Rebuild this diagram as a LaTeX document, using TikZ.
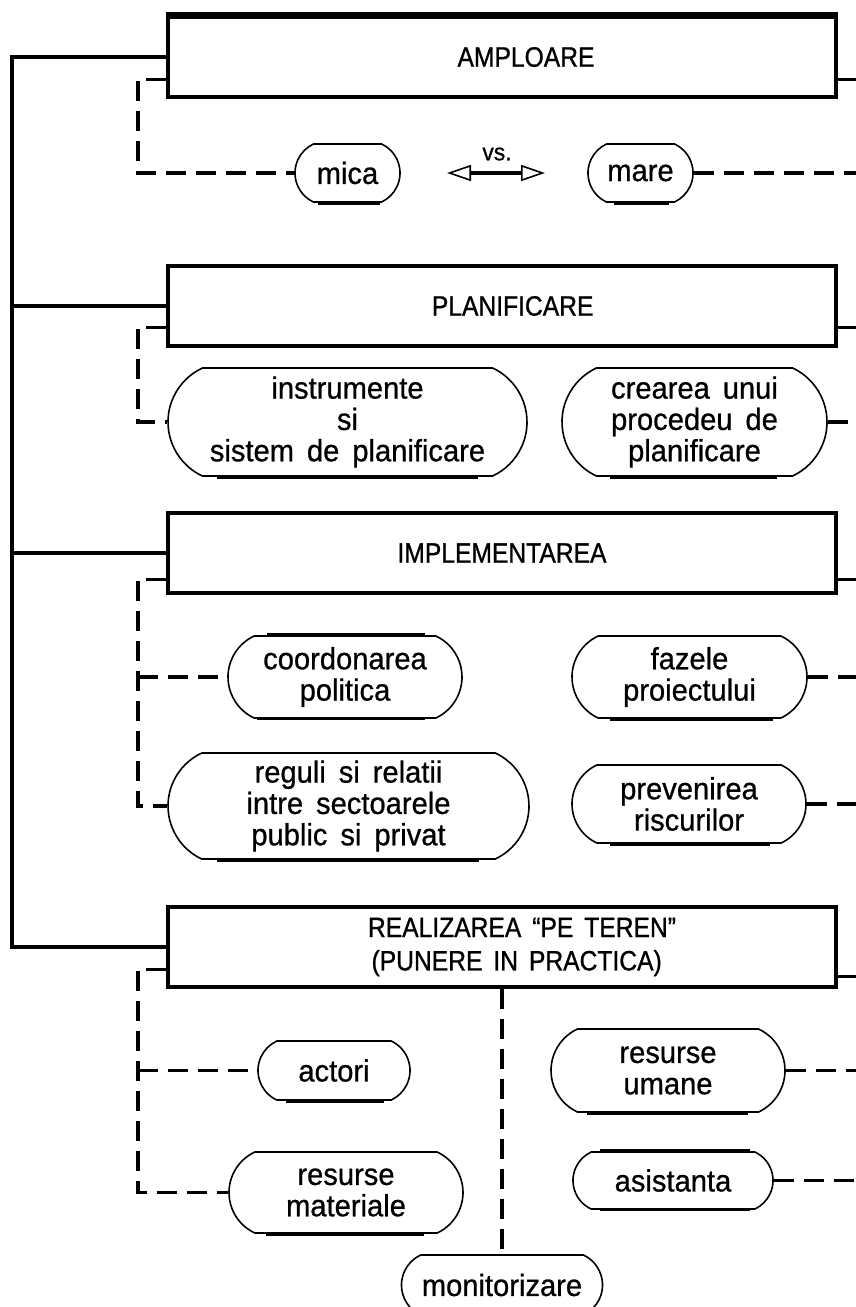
\documentclass[tikz,border=0pt]{standalone}
\usepackage{fontspec}
\setmainfont{Liberation Sans}[WordSpace=1.6, FakeBold=0.6]
\newfontfamily\boxfont{Liberation Sans}[WordSpace=1.6, FakeBold=0.9, FakeStretch=0.88]
\newfontfamily\pillfont{Liberation Sans}[WordSpace=1.6, FakeBold=0.7, FakeStretch=0.95]
\usetikzlibrary{shapes.misc,calc,arrows.meta}
\def\pxu{0.75pt}
\tikzset{
  box/.style={draw, line width=2.6pt, minimum width=668*\pxu, minimum height=80*\pxu,
    inner sep=0pt, font=\boxfont\fontsize{21}{25}\selectfont, align=center},
  pill/.style={draw, line width=1.2pt, rounded rectangle, rounded rectangle arc length=130,
    inner sep=0pt, font=\pillfont\fontsize{23}{23.5}\selectfont, align=center},
  solidline/.style={line width=2.4pt},
  dl/.style={line width=2.6pt, dash pattern=on 15pt off 7.5pt},
  heavy/.style={line width=3.4pt},
}
\begin{document}
\begin{tikzpicture}[x=0.75pt,y=-0.75pt]
\fill[white] (0,0) rectangle (856,1307);
\useasboundingbox (0,0) rectangle (856,1307);
\coordinate (tx) at (12,0);
\coordinate (lx) at (138,0);
\coordinate (rx) at (858,0);

% main boxes
\node[box] (ampl) at (502,57) {\hspace*{36pt}AMPLOARE};
\node[box] (plan) at (502,306) {\hspace*{16pt}PLANIFICARE};
\node[box] (impl) at (502,553) {IMPLEMENTAREA};
\node[box] (real) at (502,947) {\hspace*{30pt}REALIZAREA “PE TEREN”\\\hspace*{22pt}(PUNERE IN PRACTICA)};
\draw[line width=4.4pt] (ampl.north west) -- (ampl.north east);

% trunk
\draw[solidline] (ampl.west) -- (ampl.west -| tx) -- (real.west -| tx) -- (real.west);
\draw[solidline] (plan.west) -- (plan.west -| tx);
\draw[solidline] (impl.west) -- (impl.west -| tx);

% AMPLOARE
\node[pill, minimum width=105*\pxu, minimum height=58*\pxu] (mica) at (347.5,173) {mica};
\node[pill, minimum width=105*\pxu, minimum height=58*\pxu] (mare) at (640.5,173) {mare};
\coordinate (vsl) at (447,173);
\coordinate (vsr) at (545,173);
\draw[line width=3.4pt, {Triangle[open, line width=1.2pt, length=18pt, width=12pt]}-{Triangle[open, line width=1.2pt, length=18pt, width=12pt]}] (vsl) -- (vsr);
\node[font=\pillfont\fontsize{18}{18}\selectfont] (vs) at (497,154) {vs.};
\coordinate (a1) at ($(ampl.south west)+(0,-19)$);
\coordinate (a2) at ($(ampl.south east)+(0,-19)$);
\draw[dl] (a1) -- (a1 -| lx) |- (mica.west);
\draw[dl] (a2) -- (a2 -| rx);
\draw[dl] (mare.east) -- (mare.east -| rx);
\draw[heavy] ($(mica.south)+(-29.5,0)$) -- ($(mica.south)+(32.5,0)$);
\draw[heavy] ($(mare.south)+(-26.5,0)$) -- ($(mare.south)+(28.5,0)$);

% PLANIFICARE
\node[pill, minimum width=359*\pxu, minimum height=108*\pxu] (instr) at (347.5,422) {instrumente\\si\\sistem de planificare};
\node[pill, minimum width=265*\pxu, minimum height=108*\pxu] (crea) at (694.5,422) {crearea unui\\procedeu de\\planificare};
\coordinate (p1) at ($(plan.south west)+(0,-20)$);
\coordinate (p2) at ($(plan.south east)+(0,-20)$);
\draw[dl] (p1) -- (p1 -| lx) |- (instr.west);
\draw[dl] (p2) -- (p2 -| rx);
\draw[dl] (crea.east) -- (crea.east -| rx);
\draw[heavy] ($(instr.south)+(-130.5,0)$) -- ($(instr.south)+(130.5,0)$);
\draw[heavy] ($(crea.south)+(-84.5,0)$) -- ($(crea.south)+(82.5,0)$);

% IMPLEMENTAREA
\node[pill, minimum width=234*\pxu, minimum height=82*\pxu] (coord) at (345,677) {coordonarea\\politica};
\node[pill, minimum width=235*\pxu, minimum height=82*\pxu] (faz) at (689.5,677) {fazele\\proiectului};
\node[pill, minimum width=361*\pxu, minimum height=106*\pxu] (reg) at (348.5,806) {reguli si relatii\\intre sectoarele\\public si privat};
\node[pill, minimum width=234*\pxu, minimum height=78*\pxu] (prev) at (689,804) {prevenirea\\riscurilor};
\coordinate (i1) at ($(impl.south west)+(0,-15)$);
\coordinate (i2) at ($(impl.south east)+(0,-15)$);
\draw[dl] (i1) -- (i1 -| lx) |- (reg.west);
\draw[dl] (coord.west -| lx) -- (coord.west);
\draw[dl] (i2) -- (i2 -| rx);
\draw[dl] (faz.east) -- (faz.east -| rx);
\draw[dl] (prev.east) -- (prev.east -| rx);
\draw[heavy] ($(coord.north)+(-78,0)$) -- ($(coord.north)+(80,0)$);
\draw[line width=2.2pt] ($(coord.south)+(-88,0)$) -- ($(coord.south)+(80,0)$);
\draw[heavy] ($(faz.south)+(-79.5,0)$) -- ($(faz.south)+(83.5,0)$);
\draw[heavy] ($(reg.south)+(-131.5,0)$) -- ($(reg.south)+(130.5,0)$);
\draw[heavy] ($(prev.south)+(-79,0)$) -- ($(prev.south)+(81,0)$);

% REALIZAREA
\node[pill, minimum width=152*\pxu, minimum height=59*\pxu] (act) at (334,1070.5) {actori};
\node[pill, minimum width=234*\pxu, minimum height=83*\pxu] (resu) at (668,1070.5) {resurse\\umane};
\node[pill, minimum width=234*\pxu, minimum height=81*\pxu] (resm) at (346,1192.5) {resurse\\materiale};
\node[pill, minimum width=200*\pxu, minimum height=57*\pxu] (asis) at (673,1180.5) {asistanta};
\node[pill, minimum width=201*\pxu, minimum height=60*\pxu] (monit) at (502,1285) {monitorizare};
\coordinate (r1) at ($(real.south west)+(0,-19)$);
\coordinate (r2) at ($(real.south east)+(0,-12)$);
\draw[dl] (r1) -- (r1 -| lx) |- (resm.west);
\draw[dl] (act.west -| lx) -- (act.west);
\draw[dl] (real.south) -- (monit.north);
\draw[dl] (r2) -- (r2 -| rx);
\draw[dl] (resu.east) -- (resu.east -| rx);
\draw[dl] (asis.east) -- (asis.east -| rx);
\draw[heavy] ($(act.south)+(-48,0)$) -- ($(act.south)+(50,0)$);
\draw[heavy] ($(resu.south)+(-81,0)$) -- ($(resu.south)+(80,0)$);
\draw[heavy] ($(resm.south)+(-80,0)$) -- ($(resm.south)+(78,0)$);
\draw[heavy] ($(asis.north)+(-73,0)$) -- ($(asis.north)+(77,0)$);
\draw[line width=2.2pt] ($(asis.south)+(-73,0)$) -- ($(asis.south)+(77,0)$);
\end{tikzpicture}
\end{document}
